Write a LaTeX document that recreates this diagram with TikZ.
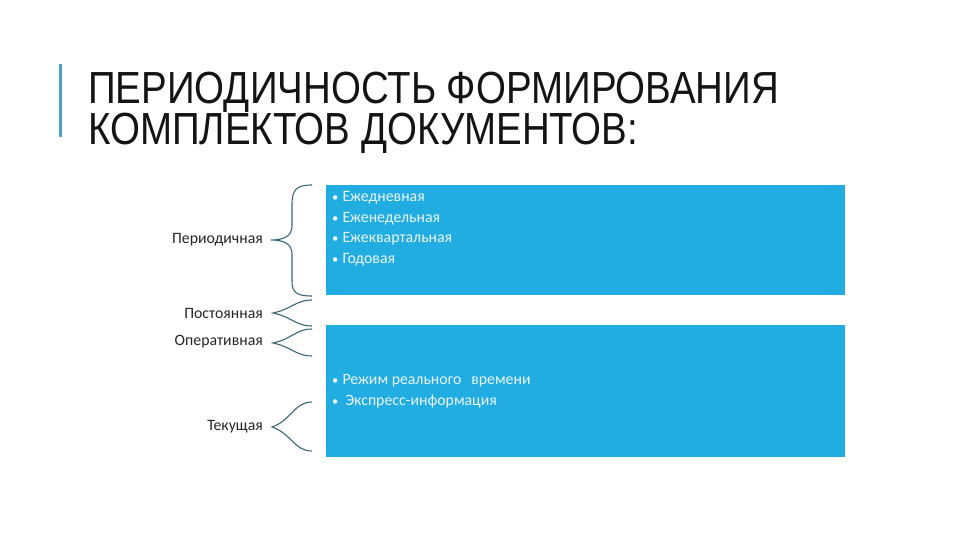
\documentclass[tikz,border=0pt]{standalone}
\usepackage{fontspec}
\setmainfont{Carlito}
\newfontfamily\titlefont[FakeStretch=0.855]{Liberation Sans}
\definecolor{boxblue}{HTML}{22ADE2}
\definecolor{bracecol}{HTML}{3A6872}
\definecolor{accent}{HTML}{4AA3C4}
\definecolor{boxtext}{HTML}{EAF6FB}
\begin{document}
\begin{tikzpicture}[x=1pt,y=-1pt,
  titletext/.style={anchor=base west,inner sep=0,font=\titlefont\fontsize{45}{45}\selectfont,text=black!92},
  blbox/.style={fill=boxblue,draw=none},
  lbl/.style={anchor=east,inner sep=0,font=\fontsize{15.8}{18}\selectfont,text=black!85},
  item/.style={anchor=west,inner sep=0,font=\fontsize{15.8}{18}\selectfont,text=boxtext},
  brc/.style={draw=bracecol,line width=1.1pt}]
\useasboundingbox (0,0) rectangle (960,540);
\fill[white] (0,0) rectangle (960,540);
% accent bar
\fill[accent] (58.5,64) rectangle (61.5,137);
% title
\node[titletext] (t1) at (88,104) {ПЕРИОДИЧНОСТЬ ФОРМИРОВАНИЯ};
\node[titletext] (t2) at (88,145) {КОМПЛЕКТОВ ДОКУМЕНТОВ:};
% boxes
\fill[blbox] (326,185) rectangle (845,295);
\fill[blbox] (326,325) rectangle (845,457);
% box 1 items
\node[item] (a1) at (332,198) {\scalebox{0.8}{•}\hspace{4pt}Ежедневная};
\node[item] (a2) at (332,218.5) {\scalebox{0.8}{•}\hspace{4pt}Еженедельная};
\node[item] (a3) at (332,239) {\scalebox{0.8}{•}\hspace{4pt}Ежеквартальная};
\node[item] (a4) at (332,259.5) {\scalebox{0.8}{•}\hspace{4pt}Годовая};
% box 2 items
\node[item] (b1) at (332,381) {\scalebox{0.8}{•}\hspace{4pt}Режим реального\hspace{10pt}времени};
\node[item] (b2) at (332,401) {\scalebox{0.8}{•}\hspace{7pt}Экспресс-информация};
% labels
\node[lbl] (l1) at (263,240) {Периодичная};
\node[lbl] (l2) at (263,313) {Постоянная};
\node[lbl] (l3) at (263,342) {Оперативная};
\node[lbl] (l4) at (263,427) {Текущая};
% braces
\coordinate (p1t) at (312,185); \coordinate (p1m) at (271,240); \coordinate (p1b) at (312,296);
\draw[brc] (p1t) .. controls (296,185) and (292,190) .. (292,205) -- (292,226)
  .. controls (292,236) and (284,240) .. (p1m)
  .. controls (284,240) and (292,244) .. (292,254) -- (292,281)
  .. controls (292,292) and (296,296) .. (p1b);
\coordinate (p2t) at (312,300); \coordinate (p2m) at (273,313); \coordinate (p2b) at (312,326);
\draw[brc] (p2t) .. controls (296,300) and (292,309) .. (p2m)
  .. controls (292,317) and (296,326) .. (p2b);
\coordinate (p3t) at (312,329); \coordinate (p3m) at (273,343); \coordinate (p3b) at (312,356);
\draw[brc] (p3t) .. controls (296,329) and (292,339) .. (p3m)
  .. controls (292,347) and (296,356) .. (p3b);
\coordinate (p4t) at (312,402); \coordinate (p4m) at (272,427); \coordinate (p4b) at (312,451);
\draw[brc] (p4t) .. controls (294,402) and (292,420) .. (p4m)
  .. controls (292,434) and (294,451) .. (p4b);
\end{tikzpicture}
\end{document}
